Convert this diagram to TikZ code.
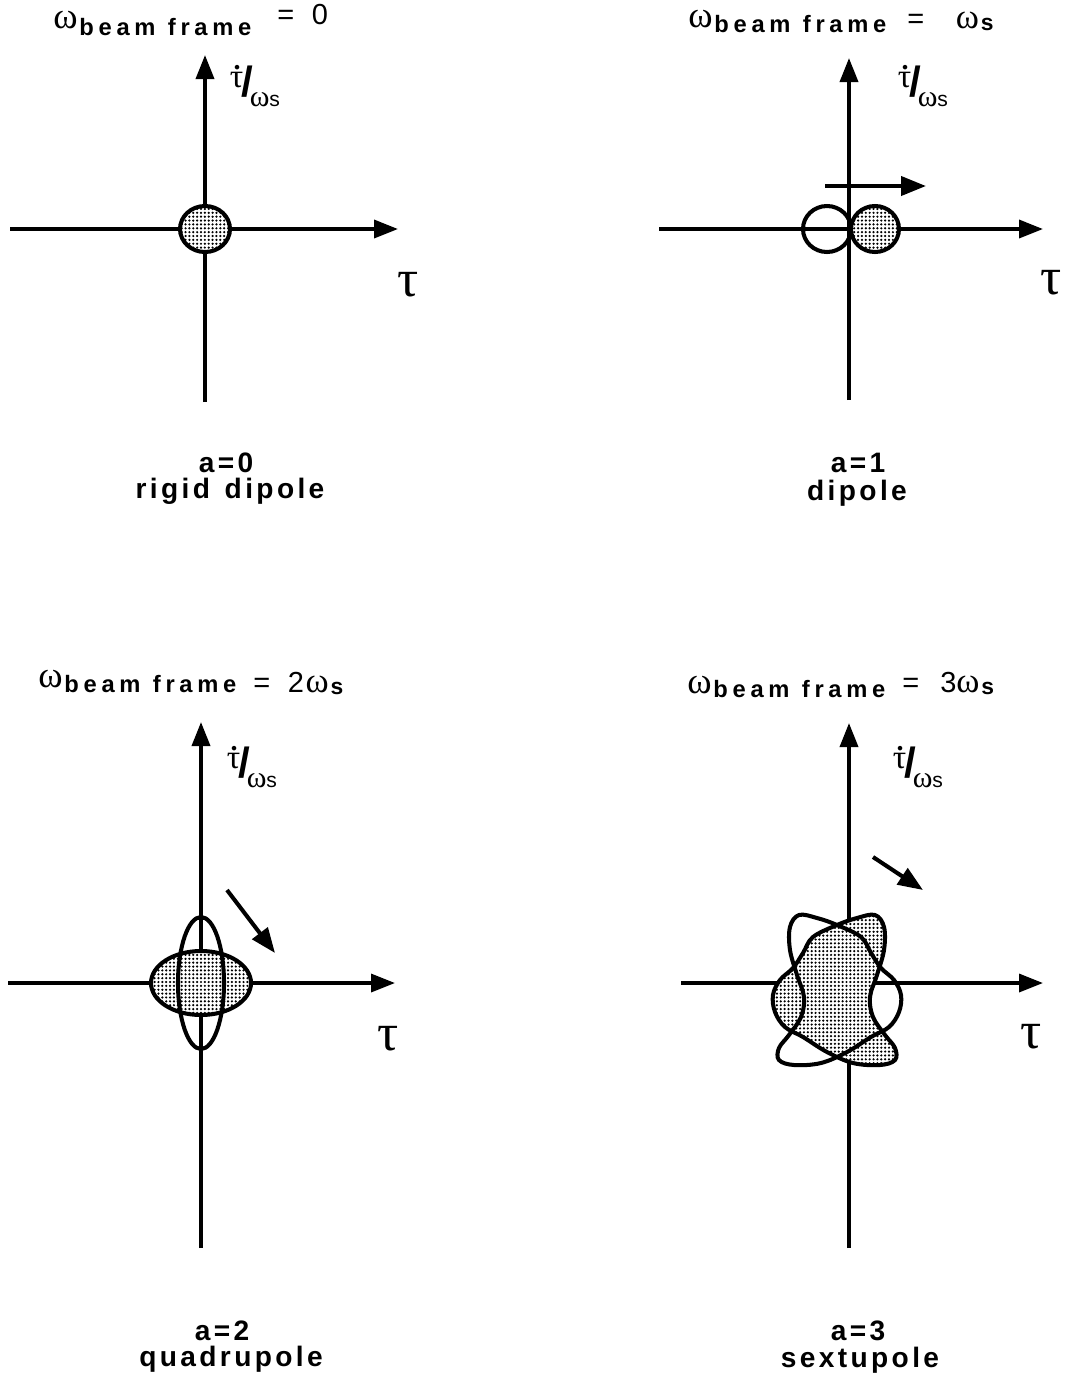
\documentclass[tikz,border=0pt]{standalone}
\usepackage{fontspec}
\setmainfont{Liberation Sans}
\newfontfamily\grk{Liberation Serif}
\usetikzlibrary{arrows.meta, patterns.meta}

\newcommand\wframe[1]{{\grk\fontsize{21}{21}\selectfont ω}\kern1pt\raisebox{-#1}{\fontsize{13.5}{13.5}\selectfont\bfseries\addfontfeatures{LetterSpace=20}beam\hspace{7pt}frame}}
\newcommand\ws{{\grk\fontsize{20}{20}\selectfont ω}\kern1pt\raisebox{-1.5pt}{\fontsize{13}{13}\selectfont\bfseries s}}
\newcommand\tdot{\raisebox{5pt}{\grk\fontsize{19}{19}\selectfont τ\llap{\raisebox{10.5pt}{\fontsize{16}{16}\selectfont\bfseries .}\kern1.5pt}}\kern-1pt{\fontsize{24}{24}\selectfont\bfseries /}\kern-2pt\raisebox{-6pt}{{\grk\fontsize{17}{17}\selectfont ω}{\fontsize{12}{12}\selectfont s}}}

\tikzset{
  axis/.style={line width=2pt, -{Triangle[length=0.48cm, width=0.36cm]}},
  motion/.style={line width=2.3pt, -{Triangle[length=0.5cm, width=0.38cm]}},
  bunch/.style={line width=2.3pt, preaction={fill=white}, pattern={Dots[distance=2.2pt, radius=0.7pt]}},
  ghost/.style={line width=2.3pt},
  titlew/.style={anchor=base west, inner sep=0pt},
  titlev/.style={anchor=base west, inner sep=0pt, font=\fontsize{16.5}{16.5}\selectfont},
  ylab/.style={inner sep=0pt},
  xlab/.style={inner sep=0pt, font=\grk\fontsize{30}{30}\selectfont},
  modelab/.style={anchor=base, inner sep=0pt, font=\fontsize{16}{18}\selectfont\bfseries\addfontfeatures{LetterSpace=12}},
  pics/sextblob/.style={code={\draw[#1] plot[smooth cycle, tension=0.6] coordinates {
    (0,-65) (20,-72) (38,-75) (47,-63) (47,-40) (40,-15) (33,7) (36,27) (48,45) (58,58)
    (58,70) (43,75) (16,73) (-10,62) (-34,47) (-52,37) (-62,22) (-64,5) (-57,-10)
    (-44,-22) (-34,-37) (-24,-53)};}},
}

\begin{document}
\begin{tikzpicture}[x=0.02cm, y=-0.02cm]
\useasboundingbox (0,0) rectangle (1066,1384);
% a=0
\coordinate (o1) at (205,229);
\coordinate (b1) at (205,402); \coordinate (t1) at (205,55);
\coordinate (l1) at (10,229); \coordinate (r1) at (398,229);
\draw[axis] (b1) -- (t1);
\draw[axis] (l1) -- (r1);
\draw[bunch] (o1) ellipse [x radius=25, y radius=23];
\node[titlew] (w1) at (53,28) {\wframe{4pt}};
\node[titlev] (v1) at (277,24) {=\hspace{10pt}0};
\node[ylab] (y1) at (255,86) {\tdot};
\node[xlab] (x1) at (408,285) {τ};
\node[modelab] (m1) at (226,472) {a=0};
\node[modelab] (d1) at (230,498) {rigid\hspace{2pt} dipole};
% a=1
\coordinate (o2) at (849,229);
\coordinate (b2) at (849,400); \coordinate (t2) at (849,58);
\coordinate (l2) at (659,229); \coordinate (r2) at (1043,229);
\coordinate (s2) at (825,186); \coordinate (e2) at (926,186);
\draw[axis] (b2) -- (t2);
\draw[axis] (l2) -- (r2);
\draw[ghost] (827,229) ellipse [x radius=24, y radius=23];
\draw[bunch] (875,229) ellipse [x radius=24, y radius=23];
\draw[motion] (s2) -- (e2);
\node[titlew] (w2) at (688,27) {\wframe{3.4pt}};
\node[titlev] (v2) at (907,28) {=\hspace{18pt}\ws};
\node[ylab] (y2) at (923,86) {\tdot};
\node[xlab] (x2) at (1051,283) {τ};
\node[modelab] (m2) at (858,472) {a=1};
\node[modelab] (d2) at (857,500) {dipole};
% a=2
\coordinate (o3) at (201,983);
\coordinate (b3) at (201,1248); \coordinate (t3) at (201,722);
\coordinate (l3) at (8,983); \coordinate (r3) at (395,983);
\coordinate (s3) at (227,890); \coordinate (e3) at (275,953);
\draw[axis] (b3) -- (t3);
\draw[axis] (l3) -- (r3);
\draw[bunch] (o3) ellipse [x radius=50, y radius=32];
\draw[ghost] (o3) ellipse [x radius=23, y radius=66];
\draw[motion] (s3) -- (e3);
\node[titlew] (w3) at (38,687) {\wframe{3pt}};
\node[titlev] (v3) at (253,692) {=\hspace{10pt}2\kern1pt\ws};
\node[ylab] (y3) at (252,767) {\tdot};
\node[xlab] (x3) at (388,1039) {τ};
\node[modelab] (m3) at (222,1340) {a=2};
\node[modelab] (d3) at (231,1366) {quadrupole};
% a=3
\coordinate (o4) at (849,983);
\coordinate (c4) at (837,990);
\coordinate (b4) at (849,1248); \coordinate (t4) at (849,723);
\coordinate (l4) at (681,983); \coordinate (r4) at (1043,983);
\coordinate (s4) at (873,857); \coordinate (e4) at (923,890);
\draw[axis] (b4) -- (t4);
\draw[axis] (l4) -- (r4);
\pic at (c4) {sextblob=bunch};
\pic[xscale=-1] at (c4) {sextblob=ghost};
\draw[motion] (s4) -- (e4);
\node[titlew] (w4) at (687,693) {\wframe{2.3pt}};
\node[titlev] (v4) at (902,692) {=\hspace{12pt}3\ws};
\node[ylab] (y4) at (918,767) {\tdot};
\node[xlab] (x4) at (1031,1037) {τ};
\node[modelab] (m4) at (858,1340) {a=3};
\node[modelab] (d4) at (860,1367) {sextupole};
\end{tikzpicture}
\end{document}
